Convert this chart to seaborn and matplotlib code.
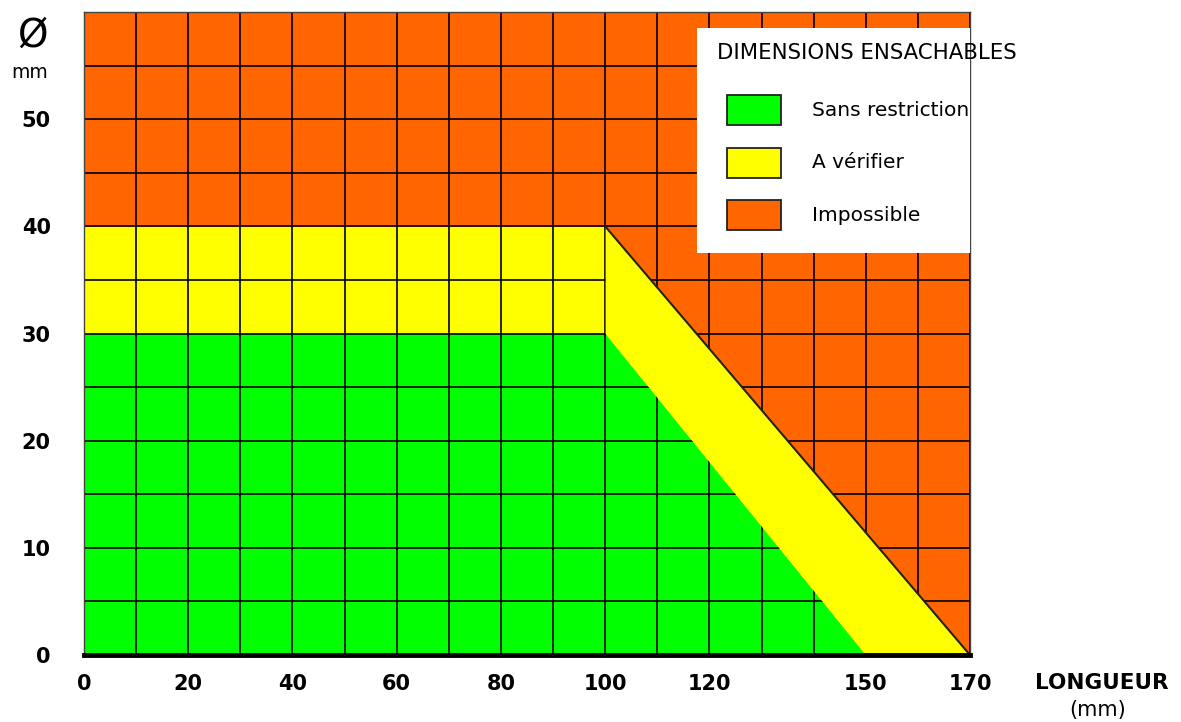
import matplotlib
matplotlib.use("Agg")
import matplotlib.pyplot as plt
from matplotlib.patches import Rectangle
import seaborn as sns
import numpy as np

# zones (longueur en mm, diametre en mm)
green_x = [0, 100, 150]
green_y = [30, 30, 0]
yellow_x = [0, 100, 170]
yellow_y = [40, 40, 0]
band_x = [100, 150, 170]
band_low = [30, 0, 0]
band_high = [40, 40 * 20 / 70, 0]

x_ticks = list(range(0, 171, 10))
x_labels = ['0', '', '20', '', '40', '', '60', '', '80', '', '100', '', '120', '', '', '150', '', '170']
y_ticks = list(range(0, 51, 10))
y_labels = ['0', '10', '20', '30', '40', '50']

zone_names = ['Sans restriction', 'A vérifier', 'Impossible']
zone_colors = ['#00ff00', '#ffff00', '#ff6600']

sns.set_theme(style="white")
plt.rcParams['font.family'] = ['DejaVu Sans']
plt.rcParams['text.color'] = 'black'

W, H = 1181, 722
fig = plt.figure(figsize=(W/100, H/100), dpi=100)
ax_l, ax_r, ax_t, ax_b = 84, 970, 12, 655
ax = fig.add_axes([ax_l/W, 1-ax_b/H, (ax_r-ax_l)/W, (ax_b-ax_t)/H])
ax.set_xlim(0, 170)
ax.set_ylim(0, 60)
ax.set_facecolor(zone_colors[2])

def px(x, y):
    # pixel position -> axes fraction
    return (x - ax_l) / (ax_r - ax_l), (ax_b - y) / (ax_b - ax_t)

ax.fill_between(yellow_x, 0, yellow_y, color=zone_colors[1], lw=0, zorder=1)
ax.fill_between(green_x, 0, green_y, color=zone_colors[0], lw=0, zorder=1)

# grid
ax.set_xticks(x_ticks)
ax.set_xticklabels(x_labels, fontweight='bold', fontsize=15, color='black')
ax.set_yticks(y_ticks)
ax.set_yticklabels(y_labels, fontweight='bold', fontsize=15, color='black')
ax.set_yticks(np.arange(0, 61, 5), minor=True)
ax.set_axisbelow('line')
ax.grid(True, which='both', color='black', lw=1.2)
ax.tick_params(length=0, which='both')
ax.tick_params(axis='y', pad=24)
ax.tick_params(axis='x', pad=14)

# yellow diagonal band over the grid
ax.fill_between(band_x, band_low, band_high, color=zone_colors[1], lw=0, zorder=3)
sns.lineplot(x=[100, 170], y=[40, 0], color='#222222', lw=1.5, ax=ax, zorder=4)

for s in ['left', 'top', 'right']:
    ax.spines[s].set_color('#444444')
    ax.spines[s].set_linewidth(1)
ax.spines['bottom'].set_color('black')
ax.spines['bottom'].set_linewidth(3.5)
ax.spines['bottom'].set_zorder(5)

# legend box (white panel inside the plot, title overflows to the right)
x0, y0 = px(697, 253)
x1, y1 = px(ax_r, 28)
ax.add_patch(Rectangle((x0, y0), x1 - x0, y1 - y0, transform=ax.transAxes,
                       facecolor='white', edgecolor='none', zorder=10))
tx, ty = px(717, 53)
ax.text(tx, ty, 'DIMENSIONS ENSACHABLES', transform=ax.transAxes, fontsize=15.3,
        ha='left', va='center', zorder=11, clip_on=False)
for i, (name, c) in enumerate(zip(zone_names, zone_colors)):
    yc = 110 + i * 52.5
    rx0, ry0 = px(727, yc + 15)
    rx1, ry1 = px(781, yc - 15)
    ax.add_patch(Rectangle((rx0, ry0), rx1 - rx0, ry1 - ry0, transform=ax.transAxes,
                           facecolor=c, edgecolor='#222222', lw=1.3, zorder=11))
    lx, ly = px(812, yc)
    ax.text(lx, ly, name, transform=ax.transAxes, fontsize=14.5,
            ha='left', va='center', zorder=11, clip_on=False)

fig.text(32/W, 1-36/H, 'Ø', fontsize=28, ha='center', va='center')
fig.text(30/W, 1-72/H, 'mm', fontsize=13.5, ha='center', va='center')
fig.text(1102/W, 1-683/H, 'LONGUEUR', fontsize=15.5, fontweight='bold', ha='center', va='center')
fig.text(1098/W, 1-710/H, '(mm)', fontsize=15, ha='center', va='center')

fig.savefig('out.png', dpi=100)
